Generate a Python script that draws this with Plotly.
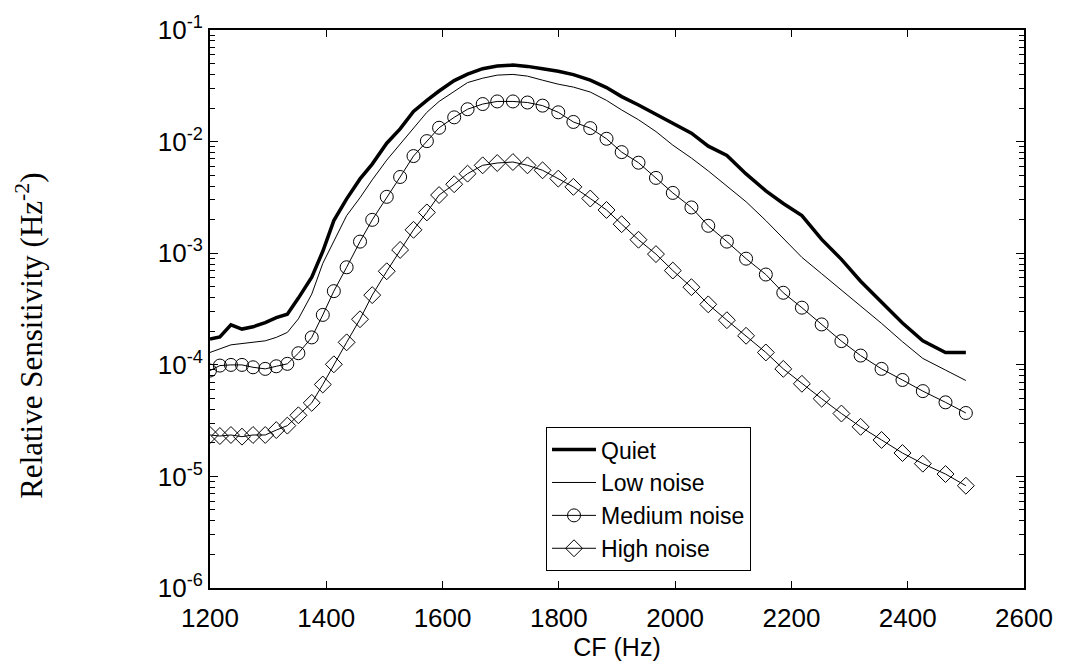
import plotly.graph_objects as go

# Characteristic frequency (Hz), shared by all series
cf = [1200, 1217, 1236, 1255, 1274, 1295, 1314, 1333, 1352, 1375,
      1394, 1413, 1435, 1458, 1479, 1504, 1527, 1550, 1573, 1594,
      1620, 1643, 1669, 1694, 1721, 1746, 1772, 1799, 1825, 1854,
      1882, 1908, 1937, 1967, 1996, 2028, 2057, 2089, 2122, 2156,
      2186, 2218, 2252, 2286, 2319, 2355, 2391, 2426, 2465, 2500]

quiet = [1.70e-4, 1.78e-4, 2.28e-4, 2.09e-4, 2.19e-4, 2.39e-4, 2.65e-4, 2.84e-4, 3.96e-4, 6.09e-4,
         1.04e-3, 1.96e-3, 3.07e-3, 4.63e-3, 6.29e-3, 9.68e-3, 1.30e-2, 1.86e-2, 2.34e-2, 2.84e-2,
         3.52e-2, 4.02e-2, 4.50e-2, 4.75e-2, 4.85e-2, 4.72e-2, 4.50e-2, 4.27e-2, 3.98e-2, 3.55e-2,
         3.05e-2, 2.53e-2, 2.13e-2, 1.75e-2, 1.46e-2, 1.19e-2, 9.10e-3, 7.52e-3, 5.13e-3, 3.62e-3,
         2.79e-3, 2.17e-3, 1.33e-3, 8.81e-4, 5.61e-4, 3.60e-4, 2.37e-4, 1.64e-4, 1.29e-4, 1.29e-4]

low = [1.29e-4, 1.40e-4, 1.51e-4, 1.55e-4, 1.60e-4, 1.64e-4, 1.76e-4, 1.95e-4, 2.58e-4, 4.30e-4,
       8.11e-4, 1.30e-3, 2.17e-3, 3.14e-3, 4.54e-3, 6.83e-3, 9.54e-3, 1.34e-2, 1.83e-2, 2.29e-2,
       2.81e-2, 3.38e-2, 3.70e-2, 3.94e-2, 4.00e-2, 3.86e-2, 3.55e-2, 3.27e-2, 3.08e-2, 2.78e-2,
       2.34e-2, 1.92e-2, 1.57e-2, 1.23e-2, 9.29e-3, 7.12e-3, 5.46e-3, 4.01e-3, 2.89e-3, 1.96e-3,
       1.37e-3, 9.18e-4, 6.55e-4, 4.67e-4, 3.36e-4, 2.35e-4, 1.61e-4, 1.14e-4, 8.97e-5, 7.23e-5]

medium = [8.88e-5, 9.84e-5, 9.98e-5, 9.98e-5, 9.50e-5, 9.19e-5, 9.70e-5, 1.02e-4, 1.27e-4, 1.76e-4,
          2.80e-4, 4.57e-4, 7.48e-4, 1.27e-3, 1.99e-3, 3.20e-3, 4.82e-3, 7.42e-3, 1.01e-2, 1.33e-2,
          1.65e-2, 1.95e-2, 2.17e-2, 2.29e-2, 2.29e-2, 2.24e-2, 2.10e-2, 1.83e-2, 1.50e-2, 1.32e-2,
          1.06e-2, 8.05e-3, 6.47e-3, 4.73e-3, 3.47e-3, 2.57e-3, 1.76e-3, 1.27e-3, 8.93e-4, 6.44e-4,
          4.42e-4, 3.25e-4, 2.30e-4, 1.63e-4, 1.21e-4, 9.19e-5, 7.31e-5, 5.81e-5, 4.61e-5, 3.70e-5]

high = [2.35e-5, 2.30e-5, 2.35e-5, 2.27e-5, 2.35e-5, 2.35e-5, 2.60e-5, 2.85e-5, 3.53e-5, 4.56e-5,
        6.66e-5, 1.01e-4, 1.59e-4, 2.56e-4, 4.21e-4, 6.89e-4, 1.07e-3, 1.62e-3, 2.32e-3, 3.32e-3,
        4.15e-3, 5.16e-3, 6.13e-3, 6.43e-3, 6.56e-3, 6.13e-3, 5.53e-3, 4.66e-3, 3.93e-3, 3.09e-3,
        2.44e-3, 1.82e-3, 1.32e-3, 9.82e-4, 6.99e-4, 4.96e-4, 3.48e-4, 2.51e-4, 1.82e-4, 1.29e-4,
        9.19e-5, 6.76e-5, 4.97e-5, 3.66e-5, 2.78e-5, 2.12e-5, 1.62e-5, 1.30e-5, 1.05e-5, 8.25e-6]

series_names = ["Quiet", "Low noise", "Medium noise", "High noise"]
x_ticks = [1200, 1400, 1600, 1800, 2000, 2200, 2400, 2600]
y_exponents = [-6, -5, -4, -3, -2, -1]

fig = go.Figure()
fig.add_trace(go.Scatter(x=cf, y=quiet, name=series_names[0], mode="lines",
                         line=dict(color="black", width=3.5)))
fig.add_trace(go.Scatter(x=cf, y=low, name=series_names[1], mode="lines",
                         line=dict(color="black", width=1)))
fig.add_trace(go.Scatter(x=cf, y=medium, name=series_names[2], mode="lines+markers",
                         line=dict(color="black", width=1),
                         marker=dict(symbol="circle-open", size=13,
                                     color="black", line=dict(width=1, color="black"))))
fig.add_trace(go.Scatter(x=cf, y=high, name=series_names[3], mode="lines+markers",
                         line=dict(color="black", width=1),
                         marker=dict(symbol="diamond-open", size=13,
                                     color="black", line=dict(width=1, color="black"))))

fig.update_layout(
    width=1072, height=667,
    margin=dict(l=210, r=48, t=27, b=78),
    plot_bgcolor="white", paper_bgcolor="white",
    font=dict(family="Liberation Sans, Arial, sans-serif", size=26, color="black"),
    showlegend=True,
    legend=dict(x=0.4128, y=0.2883, xanchor="left", yanchor="top",
                bgcolor="white", bordercolor="black", borderwidth=1,
                font=dict(family="Liberation Sans, Arial, sans-serif", size=23, color="black"),
                itemwidth=44, tracegroupgap=0),
)

fig.update_xaxes(
    range=[1200, 2600], tickvals=x_ticks, ticktext=[str(v) for v in x_ticks],
    ticks="inside", ticklen=7, tickwidth=1, tickcolor="black",
    showline=True, linecolor="black", linewidth=2, mirror="ticks",
    showgrid=False, zeroline=False, ticklabelstandoff=6,
    title=dict(text="CF (Hz)", font=dict(size=25), standoff=4),
    tickfont=dict(size=26),
)

fig.update_yaxes(
    type="log", range=[-6, -1],
    tickvals=[10.0 ** e for e in y_exponents],
    ticktext=["10<sup>%d</sup>" % e for e in y_exponents],
    ticks="inside", ticklen=8, tickwidth=1, tickcolor="black",
    minor=dict(ticks="inside", ticklen=5, tickcolor="black", tickwidth=1, dtick="D1", showgrid=False),
    showline=True, linecolor="black", linewidth=2, mirror="ticks",
    showgrid=False, zeroline=False,
    tickfont=dict(size=26),
)

fig.add_annotation(
    text="Relative Sensitivity (Hz<sup>-2</sup>)",
    xref="paper", yref="paper", x=-0.2211, y=0.452,
    xanchor="center", yanchor="middle", textangle=-90, showarrow=False,
    font=dict(family="Liberation Serif, Times New Roman, serif", size=31, color="black"),
)

fig.write_html("out.html")
